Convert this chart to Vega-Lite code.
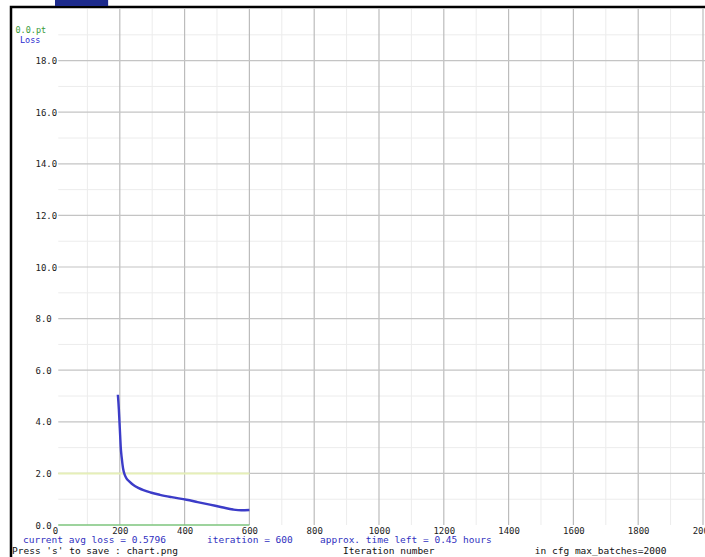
{
  "$schema": "https://vega.github.io/schema/vega-lite/v6.json",
  "autosize": "none",
  "padding": {"left": 11, "top": 7, "right": 0, "bottom": 0},
  "width": 700,
  "height": 553,
  "background": "white",
  "config": {"view": {"stroke": "black", "strokeWidth": 2.5, "fill": "white"}},
  "datasets": {
    "loss": [
      {"iter": 194, "loss": 5.05}, {"iter": 197, "loss": 4.5}, {"iter": 199, "loss": 4.0},
      {"iter": 201, "loss": 3.5}, {"iter": 203, "loss": 3.0}, {"iter": 206, "loss": 2.6},
      {"iter": 210, "loss": 2.2}, {"iter": 215, "loss": 1.95}, {"iter": 221, "loss": 1.8},
      {"iter": 230, "loss": 1.68}, {"iter": 242, "loss": 1.55}, {"iter": 257, "loss": 1.44},
      {"iter": 273, "loss": 1.35}, {"iter": 295, "loss": 1.26}, {"iter": 324, "loss": 1.17},
      {"iter": 360, "loss": 1.08}, {"iter": 406, "loss": 0.98}, {"iter": 440, "loss": 0.89},
      {"iter": 478, "loss": 0.79}, {"iter": 515, "loss": 0.69}, {"iter": 550, "loss": 0.6},
      {"iter": 575, "loss": 0.57}, {"iter": 600, "loss": 0.58}
    ],
    "vmajor": [{"v": 200}, {"v": 400}, {"v": 600}, {"v": 800}, {"v": 1000}, {"v": 1200}, {"v": 1400}, {"v": 1600}, {"v": 1800}, {"v": 2000}],
    "vminor": [{"v": 100}, {"v": 300}, {"v": 500}, {"v": 700}, {"v": 900}, {"v": 1100}, {"v": 1300}, {"v": 1500}, {"v": 1700}, {"v": 1900}],
    "hmajor": [{"h": 2}, {"h": 4}, {"h": 6}, {"h": 8}, {"h": 10}, {"h": 12}, {"h": 14}, {"h": 16}, {"h": 18}],
    "hminor": [{"h": 1}, {"h": 3}, {"h": 5}, {"h": 7}, {"h": 9}, {"h": 11}, {"h": 13}, {"h": 15}, {"h": 17}, {"h": 19}],
    "one": [{"k": 1}]
  },
  "layer": [
    {
      "data": {"name": "loss"},
      "mark": {"type": "line", "color": "#3c3cc8", "strokeWidth": 2.2, "interpolate": "monotone", "opacity": 0},
      "encoding": {
        "x": {
          "field": "iter", "type": "quantitative",
          "scale": {"domain": [-135.8, 2024.7], "nice": false, "zero": false},
          "axis": {
            "orient": "bottom", "offset": -35, "title": null, "values": [0, 200, 400, 600, 800, 1000, 1200, 1400, 1600, 1800, 2000],
            "format": "d", "domain": false, "ticks": false, "grid": false, "labelPadding": 1,
            "labelFont": "DejaVu Sans Mono", "labelFontSize": 9, "labelColor": "#222",
            "labelOverlap": false, "labelFlush": false, "labelBound": false
          }
        },
        "y": {
          "field": "loss", "type": "quantitative",
          "scale": {"domain": [-1.356, 20.078], "nice": false, "zero": false},
          "axis": {
            "orient": "left", "offset": -24, "title": null, "values": [0, 2, 4, 6, 8, 10, 12, 14, 16, 18],
            "format": ".1f", "domain": false, "ticks": false, "grid": false, "labelPadding": 0, "labelAlign": "left",
            "labelFont": "DejaVu Sans Mono", "labelFontSize": 9, "labelColor": "#222",
            "labelOverlap": false, "labelFlush": false, "labelBound": false
          }
        }
      }
    },
    {
      "data": {"name": "vminor"},
      "mark": {"type": "rule", "color": "#ececec", "strokeWidth": 1},
      "encoding": {
        "x": {"field": "v", "type": "quantitative"},
        "y": {"datum": 0, "type": "quantitative"},
        "y2": {"datum": 20}
      }
    },
    {
      "data": {"name": "hminor"},
      "mark": {"type": "rule", "color": "#ececec", "strokeWidth": 1},
      "encoding": {
        "y": {"field": "h", "type": "quantitative"},
        "x": {"datum": 10, "type": "quantitative"},
        "x2": {"datum": 2024}
      }
    },
    {
      "data": {"name": "vmajor"},
      "mark": {"type": "rule", "color": "#bcbcbc", "strokeWidth": 1.2},
      "encoding": {
        "x": {"field": "v", "type": "quantitative"},
        "y": {"datum": 0, "type": "quantitative"},
        "y2": {"datum": 20}
      }
    },
    {
      "data": {"name": "hmajor"},
      "mark": {"type": "rule", "color": "#c4c4c4", "strokeWidth": 1.2},
      "encoding": {
        "y": {"field": "h", "type": "quantitative"},
        "x": {"datum": 10, "type": "quantitative"},
        "x2": {"datum": 2024}
      }
    },
    {
      "data": {"name": "one"},
      "mark": {"type": "rule", "color": "#e6efb8", "strokeWidth": 2},
      "encoding": {
        "y": {"datum": 2, "type": "quantitative"},
        "x": {"datum": 10, "type": "quantitative"},
        "x2": {"datum": 600}
      }
    },
    {
      "data": {"name": "one"},
      "mark": {"type": "rule", "color": "#7cc47c", "strokeWidth": 1.5},
      "encoding": {
        "y": {"datum": 0, "type": "quantitative"},
        "x": {"datum": 10, "type": "quantitative"},
        "x2": {"datum": 600}
      }
    },
    {
      "data": {"name": "loss"},
      "mark": {"type": "line", "color": "#3c3cc8", "strokeWidth": 2.4, "interpolate": "monotone"},
      "encoding": {
        "x": {"field": "iter", "type": "quantitative"},
        "y": {"field": "loss", "type": "quantitative"}
      }
    },
    {
      "data": {"name": "one"},
      "mark": {"type": "rect", "color": "#1c2a8c"},
      "encoding": {
        "x": {"datum": 0, "type": "quantitative"},
        "x2": {"datum": 164},
        "y": {"datum": 20.12, "type": "quantitative"},
        "y2": {"datum": 20.4}
      }
    },
    {
      "data": {"name": "one"},
      "mark": {"type": "text", "text": "0.0.pt", "color": "#3a9a3a", "font": "DejaVu Sans Mono", "fontSize": 8.5, "align": "left", "baseline": "middle"},
      "encoding": {
        "x": {"datum": -122, "type": "quantitative"},
        "y": {"datum": 19.19, "type": "quantitative"}
      }
    },
    {
      "data": {"name": "one"},
      "mark": {"type": "text", "text": "Loss", "color": "#2a2ad0", "font": "DejaVu Sans Mono", "fontSize": 8.5, "align": "left", "baseline": "middle"},
      "encoding": {
        "x": {"datum": -108, "type": "quantitative"},
        "y": {"datum": 18.78, "type": "quantitative"}
      }
    },
    {
      "data": {"name": "one"},
      "mark": {"type": "text", "text": "current avg loss = 0.5796", "color": "#3030c0", "font": "DejaVu Sans Mono", "fontSize": 9.5, "align": "left", "baseline": "middle"},
      "encoding": {
        "x": {"datum": -98.8, "type": "quantitative"},
        "y": {"datum": -0.6, "type": "quantitative"}
      }
    },
    {
      "data": {"name": "one"},
      "mark": {"type": "text", "text": "iteration = 600", "color": "#3030c0", "font": "DejaVu Sans Mono", "fontSize": 9.5, "align": "left", "baseline": "middle"},
      "encoding": {
        "x": {"datum": 469, "type": "quantitative"},
        "y": {"datum": -0.6, "type": "quantitative"}
      }
    },
    {
      "data": {"name": "one"},
      "mark": {"type": "text", "text": "approx. time left = 0.45 hours", "color": "#3030c0", "font": "DejaVu Sans Mono", "fontSize": 9.5, "align": "left", "baseline": "middle"},
      "encoding": {
        "x": {"datum": 818, "type": "quantitative"},
        "y": {"datum": -0.6, "type": "quantitative"}
      }
    },
    {
      "data": {"name": "one"},
      "mark": {"type": "text", "text": "Press 's' to save : chart.png", "color": "#111111", "font": "DejaVu Sans Mono", "fontSize": 9.5, "align": "left", "baseline": "middle"},
      "encoding": {
        "x": {"datum": -132.7, "type": "quantitative"},
        "y": {"datum": -1.02, "type": "quantitative"}
      }
    },
    {
      "data": {"name": "one"},
      "mark": {"type": "text", "text": "Iteration number", "color": "#111111", "font": "DejaVu Sans Mono", "fontSize": 9.5, "align": "left", "baseline": "middle"},
      "encoding": {
        "x": {"datum": 889, "type": "quantitative"},
        "y": {"datum": -1.02, "type": "quantitative"}
      }
    },
    {
      "data": {"name": "one"},
      "mark": {"type": "text", "text": "in cfg max_batches=2000", "color": "#111111", "font": "DejaVu Sans Mono", "fontSize": 9.5, "align": "left", "baseline": "middle"},
      "encoding": {
        "x": {"datum": 1481, "type": "quantitative"},
        "y": {"datum": -1.02, "type": "quantitative"}
      }
    }
  ]
}
